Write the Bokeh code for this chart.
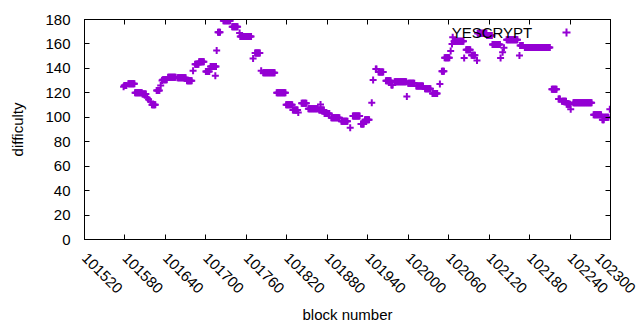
import numpy as np
from bokeh.plotting import figure
from bokeh.models import (Range1d, FixedTicker, LinearAxis, BasicTickFormatter,
                          CustomJSTickFormatter, Legend, LegendItem, Label,
                          ColumnDataSource)
from bokeh.embed import file_html
from bokeh.resources import INLINE

# ---- data: runs of (first block, last block, difficulty) ----
run_start = [101578, 101579, 101585, 101595, 101606, 101613, 101615, 101618, 101620,
             101627, 101633, 101635, 101636, 101644, 101658, 101672, 101681, 101684,
             101690, 101700, 101707, 101714, 101716, 101718, 101726, 101739, 101750,
             101751, 101770, 101773, 101782, 101785, 101805, 101819, 101829, 101837,
             101842, 101852, 101868, 101870, 101876, 101886, 101901, 101914, 101918,
             101930, 101936, 101946, 101948, 101952, 101956, 101967, 101975, 101980,
             101998, 102000, 102012, 102025, 102036, 102047, 102050, 102054, 102063,
             102065, 102066, 102068, 102083, 102086, 102094, 102102, 102103, 102117,
             102125, 102137, 102140, 102142, 102146, 102165, 102166, 102173, 102213,
             102223, 102228, 102235, 102241, 102245, 102275, 102288, 102291, 102299]
run_end = [101578, 101582, 101594, 101605, 101611, 101613, 101615, 101618, 101625,
           101631, 101633, 101635, 101642, 101655, 101670, 101679, 101681, 101689,
           101697, 101705, 101715, 101714, 101716, 101721, 101736, 101747, 101750,
           101767, 101770, 101780, 101782, 101802, 101818, 101828, 101836, 101837,
           101849, 101866, 101875, 101870, 101883, 101898, 101910, 101914, 101928,
           101934, 101942, 101946, 101948, 101953, 101963, 101974, 101977, 101997,
           101998, 102009, 102022, 102033, 102043, 102047, 102053, 102061, 102063,
           102065, 102066, 102082, 102083, 102092, 102099, 102102, 102116, 102124,
           102136, 102137, 102140, 102142, 102162, 102165, 102170, 102210, 102220,
           102225, 102234, 102240, 102241, 102272, 102286, 102290, 102297, 102299]
run_value = [125, 126, 127.5, 120, 119, 116, 114.6, 113, 110.3,
             122, 126, 130, 130.7, 132.8, 132.3, 129.8, 138, 143.4,
             145.4, 137.5, 141.6, 134, 154.6, 169.6, 179, 174, 169,
             166, 148, 152.6, 138, 136.4, 120, 110.3, 106, 104,
             111.5, 107, 106, 110.5, 103, 99.7, 96.8, 91.4, 101,
             94.6, 97.9, 111.8, 130.6, 139.4, 137, 129.8, 126.4, 129,
             117, 127.8, 125.6, 123.3, 119.5, 127.3, 137.6, 148.7, 154.3,
             160, 165.5, 162.2, 148.6, 155.2, 150.8, 146.5, 168.8, 167,
             159.5, 148.6, 153.3, 156.9, 163.4, 150.5, 158.7, 157, 123,
             115, 113.2, 110.7, 106.5, 111.8, 102, 98, 100, 106.5]

series_name = "YESCRYPT"
x_ticks = list(range(101520, 102301, 60))
y_ticks = list(range(0, 181, 20))

blocks, diffs = [], []
for s, e, v in zip(run_start, run_end, run_value):
    for b in range(s, e + 1):
        blocks.append(b)
        diffs.append(v)

src = ColumnDataSource(data=dict(block=blocks, difficulty=diffs))

FONT = "Liberation Sans"
COLOR = "#9400d3"

W, H = 636, 326
p = figure(width=W, height=H, output_backend="svg", toolbar_location=None,
           x_range=Range1d(101520, 102300), y_range=Range1d(0, 180),
           min_border_left=84, min_border_right=W - 610, min_border_top=19,
           min_border_bottom=H - 239)
p.grid.visible = False
p.outline_line_color = "black"
p.outline_line_width = 1
p.background_fill_color = "white"
p.border_fill_color = "white"

r = p.scatter("block", "difficulty", source=src, marker="cross", size=7,
              line_width=2, line_color=COLOR)

xa = p.xaxis[0]
xa.ticker = FixedTicker(ticks=x_ticks)
xa.formatter = BasicTickFormatter(use_scientific=False)
xa.major_label_orientation = -np.pi / 4
xa.axis_label = "block number"
ya = p.yaxis[0]
ya.ticker = FixedTicker(ticks=y_ticks)
ya.axis_label = "difficulty"

for ax in (xa, ya):
    ax.major_tick_in = 5
    ax.major_tick_out = 0
    ax.minor_tick_in = 0
    ax.minor_tick_out = 0
    ax.axis_line_color = "black"
    ax.major_label_text_font = FONT
    ax.major_label_text_font_size = "15px"
    ax.major_label_text_color = "black"
    ax.axis_label_text_font = FONT
    ax.axis_label_text_font_size = "15px"
    ax.axis_label_text_font_style = "normal"
    ax.axis_label_text_color = "black"
xa.major_label_standoff = 16
ya.major_label_standoff = 14
xa.axis_label_standoff = 5
ya.axis_label_standoff = 16

# mirrored ticks on top and right (no labels)
blank = CustomJSTickFormatter(code="return ''")
top = LinearAxis(ticker=FixedTicker(ticks=x_ticks), formatter=blank,
                 major_tick_in=5, major_tick_out=0, minor_tick_in=0, minor_tick_out=0,
                 axis_line_color="black", major_label_standoff=0)
right = LinearAxis(ticker=FixedTicker(ticks=y_ticks), formatter=blank,
                   major_tick_in=5, major_tick_out=0, minor_tick_in=0, minor_tick_out=0,
                   axis_line_color="black", major_label_standoff=0)
p.add_layout(top, "above")
p.add_layout(right, "right")

# key: text on the left, sample on the right (gnuplot style)
key_text = Label(x=102184, y=169.4, text=series_name, text_align="right",
                 text_baseline="middle", text_font=FONT, text_font_size="15px",
                 text_color="black")
p.add_layout(key_text)
legend = Legend(items=[LegendItem(label=" ", renderers=[r])],
                location=(472, 197), margin=0, padding=0, spacing=0,
                glyph_width=20, glyph_height=20, label_height=20,
                label_standoff=0, label_width=0, border_line_color=None,
                background_fill_alpha=0, label_text_font=FONT,
                label_text_font_size="15px")
p.add_layout(legend, "center")

open("out.html", "w").write(file_html(p, INLINE))
